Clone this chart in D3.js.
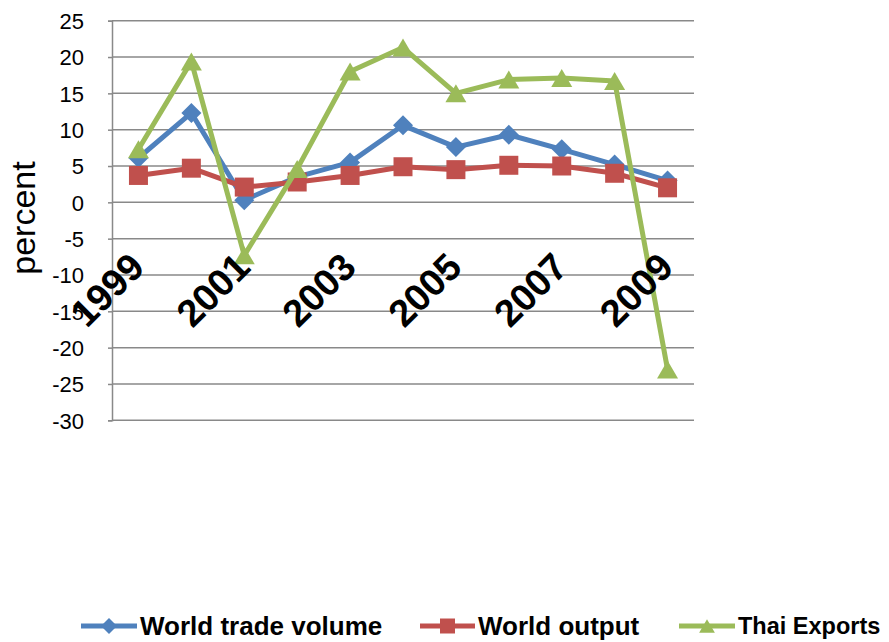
<!DOCTYPE html>
<html>
<head>
<meta charset="utf-8">
<script src="https://cdn.jsdelivr.net/npm/d3@7/dist/d3.min.js"></script>
<style>
  html, body { margin: 0; padding: 0; background: #fff; }
  svg { display: block; }
</style>
</head>
<body>
<svg id="chart" width="889" height="642"></svg>
<script>
const years = ["1999","2000","2001","2002","2003","2004","2005","2006","2007","2008","2009"];
const tickLabels = ["1999","2001","2003","2005","2007","2009"];
const worldTrade = [6.1, 12.3, 0.3, 3.5, 5.5, 10.6, 7.6, 9.3, 7.3, 5.2, 3.0];
const worldOutput = [3.7, 4.7, 2.1, 2.8, 3.7, 4.9, 4.5, 5.1, 5.0, 4.0, 2.0];
const thaiExports = [7.3, 19.4, -7.3, 4.6, 18.0, 21.3, 15.0, 16.9, 17.1, 16.7, -23.0];
const yTicks = [25, 20, 15, 10, 5, 0, -5, -10, -15, -20, -25, -30];
const seriesNames = ["World trade volume", "World output", "Thai Exports"];

const colors = ["#4F81BD", "#C0504D", "#9BBB59"];
const seriesData = [worldTrade, worldOutput, thaiExports];

// Excel-like marker shapes (size = half extent)
const diamond = { draw(ctx, r) { ctx.moveTo(0, -r); ctx.lineTo(r, 0); ctx.lineTo(0, r); ctx.lineTo(-r, 0); ctx.closePath(); } };
const square = { draw(ctx, r) { ctx.rect(-r, -r, 2 * r, 2 * r); } };
const triangle = { draw(ctx, r) { ctx.moveTo(0, -r * 0.9); ctx.lineTo(r * 1.05, r * 0.9); ctx.lineTo(-r * 1.05, r * 0.9); ctx.closePath(); } };
const symbols = [diamond, square, triangle];

const svg = d3.select("#chart");
const plotLeft = 112, plotRight = 694, plotTop = 20.7, plotBottom = 420.3;

const x = d3.scaleBand().domain(years).range([plotLeft, plotRight]).paddingInner(0).paddingOuter(0);
const cx = d => x(d) + x.bandwidth() / 2;
const y = d3.scaleLinear().domain([-30, 25]).range([plotBottom, plotTop]);

const font = "'Liberation Sans', Arial, sans-serif";

// gridlines
svg.append("g").selectAll("line").data(yTicks).join("line")
  .attr("x1", plotLeft).attr("x2", plotRight)
  .attr("y1", d => y(d)).attr("y2", d => y(d))
  .attr("stroke", "#898989").attr("stroke-width", 1.5);

// y axis
const yAxis = d3.axisLeft(y).tickValues(yTicks).tickSize(4).tickPadding(24).tickFormat(d => String(d));
const gy = svg.append("g").attr("transform", `translate(${plotLeft},0)`).call(yAxis);
gy.select(".domain").attr("stroke", "#898989").attr("stroke-width", 1.5);
gy.selectAll(".tick line").attr("stroke", "#898989").attr("stroke-width", 1.5);
gy.selectAll(".tick text").attr("font-family", font).attr("font-size", 22).attr("fill", "#000")
  .attr("dy", "0.36em");

// y axis title
svg.append("text")
  .attr("transform", `translate(35,218) rotate(-90)`)
  .attr("text-anchor", "middle")
  .attr("font-family", font).attr("font-size", 34).attr("fill", "#000")
  .text("percent");

// series
const markerR = [10, 9.5, 10];
seriesData.forEach((vals, si) => {
  const pts = years.map((yr, i) => [cx(yr), y(vals[i])]);
  svg.append("path")
    .attr("d", d3.line()(pts))
    .attr("fill", "none").attr("stroke", colors[si]).attr("stroke-width", 5)
    .attr("stroke-linejoin", "round");
  svg.append("g").selectAll("path").data(years).join("path")
    .attr("transform", (yr, i) => `translate(${cx(yr)},${y(vals[i])})`)
    .attr("d", d3.symbol().type(symbols[si]).size(markerR[si]))
    .attr("fill", colors[si]);
});

// x labels (at the zero line, rotated)
svg.append("g").selectAll("text").data(tickLabels).join("text")
  .attr("transform", d => `translate(${cx(d) + 8},${y(0) + 67}) rotate(-45)`)
  .attr("text-anchor", "end")
  .attr("font-family", font).attr("font-size", 38).attr("font-weight", "bold").attr("fill", "#000")
  .text(d => d);

// legend
const legendY = 626;
const legendItems = [
  { x0: 81, x1: 137, tx: 140, fs: 26 },
  { x0: 420, x1: 475, tx: 478, fs: 26 },
  { x0: 679, x1: 735, tx: 738, fs: 23.5 }
];
const lg = svg.append("g");
legendItems.forEach((it, si) => {
  lg.append("line").attr("x1", it.x0).attr("x2", it.x1).attr("y1", legendY).attr("y2", legendY)
    .attr("stroke", colors[si]).attr("stroke-width", 5);
  lg.append("path")
    .attr("transform", `translate(${(it.x0 + it.x1) / 2},${legendY})`)
    .attr("d", d3.symbol().type(symbols[si]).size([8, 7.5, 7.5][si]))
    .attr("fill", colors[si]);
  lg.append("text").attr("x", it.tx).attr("y", legendY).attr("dy", "0.36em")
    .attr("font-family", font).attr("font-size", it.fs).attr("font-weight", "bold").attr("fill", "#000")
    .text(seriesNames[si]);
});
</script>
</body>
</html>
